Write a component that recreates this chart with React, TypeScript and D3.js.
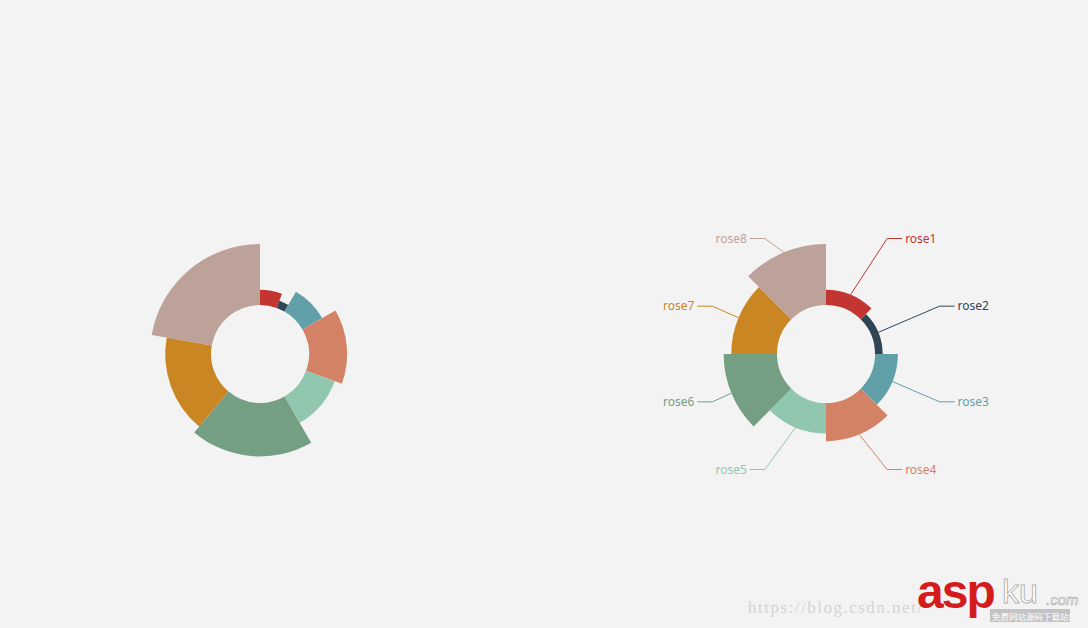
import React from "react";
import * as d3 from "d3";

const names = ["rose1", "rose2", "rose3", "rose4", "rose5", "rose6", "rose7", "rose8"];
const values = [10, 5, 15, 25, 20, 35, 30, 40];
const colors = ["#c23531", "#2f4554", "#61a0a8", "#d48265", "#91c7ae", "#749f83", "#ca8622", "#bda29a"];

const W = 1088;
const H = 628;
const CY = 354;
const LEFT_CX = 260;
const RIGHT_CX = 826;
const R0 = 49;
const R1 = 110;
const LEN = 15;
const LEN2 = 15;

type Slice = { name: string; value: number; color: string; a0: number; a1: number };

function radiusScale() {
  return d3.scaleLinear().domain([0, d3.max(values) as number]).range([R0, R1]);
}

function radiusModeSlices(): Slice[] {
  const total = d3.sum(values);
  const ang = d3.scaleLinear().domain([0, total]).range([0, 2 * Math.PI]);
  let acc = 0;
  return values.map((v, i) => {
    const s = { name: names[i], value: v, color: colors[i], a0: ang(acc), a1: ang(acc + v) };
    acc += v;
    return s;
  });
}

function areaModeSlices(): Slice[] {
  const step = (2 * Math.PI) / values.length;
  return values.map((v, i) => ({ name: names[i], value: v, color: colors[i], a0: i * step, a1: (i + 1) * step }));
}

function Rose({ cx, slices, labels }: { cx: number; slices: Slice[]; labels: boolean }) {
  const rs = radiusScale();
  const arc = d3.arc<Slice>()
    .innerRadius(R0)
    .outerRadius((d) => rs(d.value))
    .startAngle((d) => d.a0)
    .endAngle((d) => d.a1);
  const Rlab = R1 + LEN;
  return (
    <g transform={`translate(${cx},${CY})`}>
      {slices.map((s) => (
        <path key={s.name} d={arc(s) || ""} fill={s.color} />
      ))}
      {labels &&
        slices.map((s) => {
          const mid = (s.a0 + s.a1) / 2;
          const sx = Math.sin(mid);
          const sy = -Math.cos(mid);
          const r = rs(s.value);
          const x1 = r * sx;
          const y1 = r * sy;
          const ly = Rlab * sy;
          const dir = sx >= 0 ? 1 : -1;
          const RB = Rlab + LEN2;
          const dx = Math.sqrt(RB * RB - ly * ly);
          const tx = dir * dx;
          const endX = tx - dir * 3;
          const bendX = endX - dir * LEN2;
          return (
            <g key={"l" + s.name}>
              <polyline
                points={`${x1},${y1} ${bendX},${ly} ${endX},${ly}`}
                fill="none"
                stroke={s.color}
                strokeWidth={1}
              />
              <text
                x={tx}
                y={ly}
                dy="0.35em"
                textAnchor={dir > 0 ? "start" : "end"}
                fill={s.color}
                fontSize={12}
                fontFamily="'Noto Sans', 'Liberation Sans', sans-serif"
              >
                {s.name}
              </text>
            </g>
          );
        })}
    </g>
  );
}

export default function App() {
  return (
    <svg
      width={W}
      height={H}
      style={{ position: "fixed", left: 0, top: 0, display: "block" }}
    >
      <rect width={W} height={H} fill="#f4f3f3" />
      <Rose cx={LEFT_CX} slices={radiusModeSlices()} labels={false} />
      <Rose cx={RIGHT_CX} slices={areaModeSlices()} labels={true} />
      <text x={748} y={613} fontSize={17} fill="#d4d4d4" fontFamily="'Liberation Serif', 'DejaVu Serif', serif" letterSpacing={1.5}>
        https://blog.csdn.net/
      </text>
      <text x={917} y={608} fontSize={48} fontWeight="bold" fill="#d41c1c" fontFamily="'Liberation Sans', Arial, sans-serif" letterSpacing={-2}>
        asp
      </text>
      <text x={1002} y={603} fontSize={34} fill="#ffffff" stroke="#b5b5b5" strokeWidth={1} fontFamily="'Liberation Sans', Arial, sans-serif">
        ku
      </text>
      <text x={1046} y={605} fontSize={15} fontStyle="italic" fill="#ffffff" stroke="#a8a8a8" strokeWidth={0.6} fontFamily="'Liberation Sans', Arial, sans-serif">
        .com
      </text>
      <rect x={990} y={609} width={80} height={13} fill="#9a9a9a" opacity={0.55} />
      <text x={992} y={619.5} fontSize={8.5} fill="#ffffff" fontFamily="'Noto Sans CJK SC', sans-serif">
        免费网站源码下载站!
      </text>
    </svg>
  );
}
